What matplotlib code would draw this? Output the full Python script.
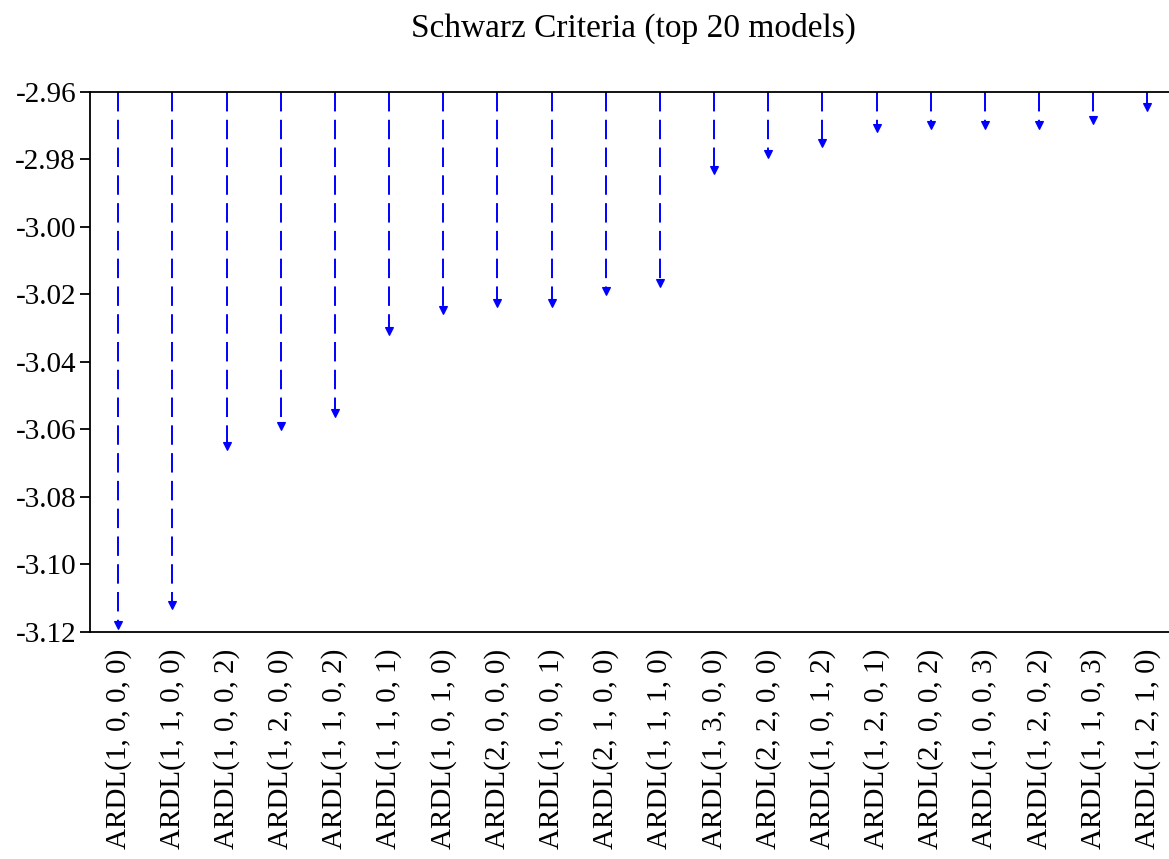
import matplotlib.pyplot as plt

plt.rcParams['font.family'] = ['Liberation Serif', 'DejaVu Serif']
plt.rcParams['lines.scale_dashes'] = False

MODELS = [
    'ARDL(1, 0, 0, 0)', 'ARDL(1, 1, 0, 0)', 'ARDL(1, 0, 0, 2)', 'ARDL(1, 2, 0, 0)',
    'ARDL(1, 1, 0, 2)', 'ARDL(1, 1, 0, 1)', 'ARDL(1, 0, 1, 0)', 'ARDL(2, 0, 0, 0)',
    'ARDL(1, 0, 0, 1)', 'ARDL(2, 1, 0, 0)', 'ARDL(1, 1, 1, 0)', 'ARDL(1, 3, 0, 0)',
    'ARDL(2, 2, 0, 0)', 'ARDL(1, 0, 1, 2)', 'ARDL(1, 2, 0, 1)', 'ARDL(2, 0, 0, 2)',
    'ARDL(1, 0, 0, 3)', 'ARDL(1, 2, 0, 2)', 'ARDL(1, 1, 0, 3)', 'ARDL(1, 2, 1, 0)',
]
SIC = [
    -3.1186, -3.1128, -3.0655, -3.0597, -3.0558, -3.0315, -3.0252, -3.0232,
    -3.0232, -3.0196, -3.0172, -2.9838, -2.9790, -2.9758, -2.9714, -2.9705,
    -2.9705, -2.9705, -2.9690, -2.9651,
]
BASE = -2.96
YTICKS = [-2.96, -2.98, -3.00, -3.02, -3.04, -3.06, -3.08, -3.10, -3.12]


def make_figure():
    fig = plt.figure(figsize=(11.69, 8.59), dpi=100)
    ax = fig.add_axes([0.077, 0.2643, 0.93, 0.6286])

    for i, v in enumerate(SIC):
        ax.plot([i, i], [BASE, v], color='#0000ff', lw=1.4,
                linestyle=(0, (14, 6)), solid_capstyle='butt')
        ax.plot([i], [v + 0.0007], marker='v', color='#0000ff',
                markersize=6, markeredgewidth=0.8)

    ax.set_xlim(-0.52, len(SIC) - 0.45)
    ax.set_ylim(-3.12, -2.96)
    ax.set_yticks(YTICKS)
    ax.set_yticklabels([f'{t:.2f}' for t in YTICKS], fontsize=21)
    ax.set_xticks(range(len(MODELS)))
    ax.set_xticklabels(MODELS, rotation=90, fontsize=21)
    ax.tick_params(axis='x', length=0, pad=12)
    ax.tick_params(axis='y', length=7, width=1.3, pad=3)

    ax.spines['right'].set_visible(False)
    for side in ('left', 'bottom', 'top'):
        ax.spines[side].set_linewidth(1.3)

    ax.set_title('Schwarz Criteria (top 20 models)', fontsize=24, pad=40)
    fig.savefig('out.png', dpi=100)


def main():
    make_figure()


if __name__ == '__main__':
    main()
